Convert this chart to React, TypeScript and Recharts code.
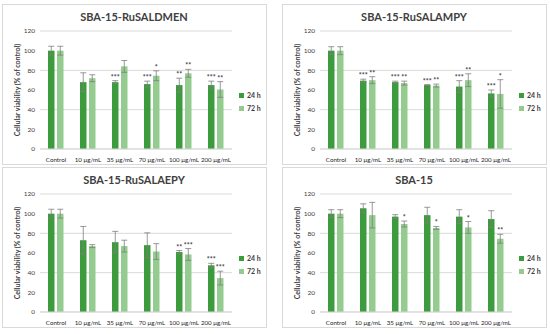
import React from "react";
import { BarChart, Bar, XAxis, YAxis, CartesianGrid, ErrorBar, LabelList, Legend, Label } from "recharts";

const categories = ["Control", "10 μg/mL", "35 μg/mL", "70 μg/mL", "100 μg/mL", "200 μg/mL"];
const yTicks = [0, 20, 40, 60, 80, 100, 120];

const titles = ["SBA-15-RuSALDMEN", "SBA-15-RuSALAMPY", "SBA-15-RuSALAEPY", "SBA-15"];

// SBA-15-RuSALDMEN
const p1v24 = [100, 68, 68, 66, 65, 65];
const p1e24 = [4.5, 9.5, 1.5, 3, 7, 4];
const p1s24 = ["", "", "***", "***", "**", "***"];
const p1v72 = [100, 72, 84, 74.5, 77, 60.5];
const p1e72 = [4.5, 3.5, 6, 5, 4, 8];
const p1s72 = ["", "", "", "*", "**", "**"];

// SBA-15-RuSALAMPY
const p2v24 = [100, 69.5, 68, 65, 63.5, 56.5];
const p2e24 = [4, 1.5, 1, 0.5, 6, 3.5];
const p2s24 = ["", "***", "***", "***", "***", "***"];
const p2v72 = [100, 70, 67, 64.5, 70, 56];
const p2e72 = [4, 3.5, 2, 1.5, 6.5, 14.5];
const p2s72 = ["", "**", "**", "**", "**", "*"];

// SBA-15-RuSALAEPY
const p3v24 = [100, 73, 71, 68, 61, 47.5];
const p3e24 = [4.5, 14, 11, 12.5, 1.5, 2];
const p3s24 = ["", "", "", "", "**", "***"];
const p3v72 = [100, 67, 67, 61.5, 58.5, 34.5];
const p3e72 = [4.5, 1.5, 6, 8, 6, 7];
const p3s72 = ["", "", "", "", "***", "***"];

// SBA-15
const p4v24 = [100, 105.5, 97, 98.5, 97, 94.5];
const p4e24 = [4, 4.5, 2, 8, 7, 8.5];
const p4s24 = ["", "", "", "", "", ""];
const p4v72 = [100, 98.5, 89.5, 85.5, 86, 74.5];
const p4e72 = [4, 13, 3, 1.5, 6, 4.5];
const p4s72 = ["", "", "*", "*", "*", "**"];

const C24 = "#3c9b3c";
const C72 = "#93cc8e";
const FONT = "Lato, 'Open Sans', sans-serif";

function build(v24: number[], e24: number[], s24: string[], v72: number[], e72: number[], s72: string[]) {
  return categories.map((c, i) => ({
    cat: c,
    h24: v24[i], e24: e24[i], s24: s24[i],
    h72: v72[i], e72: e72[i], s72: s72[i],
  }));
}

const panels = [
  { title: titles[0], data: build(p1v24, p1e24, p1s24, p1v72, p1e72, p1s72), left: 2, top: 4 },
  { title: titles[1], data: build(p2v24, p2e24, p2s24, p2v72, p2e72, p2s72), left: 282, top: 4 },
  { title: titles[2], data: build(p3v24, p3e24, p3s24, p3v72, p3e72, p3s72), left: 2, top: 167 },
  { title: titles[3], data: build(p4v24, p4e24, p4s24, p4v72, p4e72, p4s72), left: 282, top: 167 },
];

const makeStar = (data: any[], errKey: string) => (props: any) => {
  const { x, y, width, height, value, index } = props;
  if (!value) return null;
  const v = errKey === "e24" ? data[index].h24 : data[index].h72;
  const pxPerUnit = height / v;
  const ty = y - data[index][errKey] * pxPerUnit - 1;
  return (
    <text x={x + width / 2} y={ty} textAnchor="middle" fontSize={7} fontWeight={700} fill="#404040" fontFamily={FONT}>
      {value}
    </text>
  );
};

const LegendContent = () => (
  <div style={{ fontFamily: FONT, fontSize: 7, fontWeight: 700, color: "#404040", lineHeight: "13px", paddingLeft: 7 }}>
    {[["24 h", C24], ["72 h", C72]].map(([n, c]) => (
      <div key={n} style={{ display: "flex", alignItems: "center", whiteSpace: "nowrap" }}>
        <span style={{ display: "inline-block", width: 5, height: 5, background: c, marginRight: 3 }} />
        {n}
      </div>
    ))}
  </div>
);

function Panel({ title, data, left, top }: any) {
  return (
    <div
      style={{
        position: "absolute", left, top, width: 265, height: 161,
        border: "1px solid #d9d9d9", boxSizing: "border-box", background: "#fff",
      }}
    >
      <div
        style={{
          position: "absolute", left: 0, top: 5, width: 262, textAlign: "center",
          fontFamily: FONT, fontWeight: 700, fontSize: 11, color: "#404040",
        }}
      >
        {title}
      </div>
      <div style={{ position: "absolute", left: -1, top: -1 }}>
        <BarChart
          width={265}
          height={161}
          data={data}
          margin={{ top: 27, right: 5, bottom: 0, left: 0 }}
          barSize={6.5}
          barGap={2.5}
        >
          <CartesianGrid vertical={false} stroke="#d9d9d9" />
          <XAxis
            dataKey="cat"
            tickLine={false}
            axisLine={{ stroke: "#d9d9d9" }}
            tick={{ fontSize: 6.2, fill: "#262626", fontFamily: FONT }}
            interval={0}
            tickMargin={3}
            height={16}
          />
          <YAxis
            domain={[0, 120]}
            ticks={yTicks}
            tickLine={false}
            axisLine={false}
            tickSize={0}
            tickMargin={5}
            width={38}
            tick={{ fontSize: 6.5, fill: "#404040", fontFamily: FONT }}
          >
            <Label
              value="Cellular viability (% of control)"
              angle={-90}
              position="insideLeft"
              offset={16}
              style={{ textAnchor: "middle", fontSize: 7, fontWeight: 700, fill: "#404040", fontFamily: FONT }}
            />
          </YAxis>
          <Legend
            layout="vertical"
            align="right"
            verticalAlign="middle"
            content={<LegendContent />}
            wrapperStyle={{ width: 30, top: 85 }}
          />
          <Bar dataKey="h24" name="24 h" fill={C24} isAnimationActive={false}>
            <ErrorBar dataKey="e24" width={3} stroke="#7f7f7f" strokeWidth={0.8} />
            <LabelList dataKey="s24" content={makeStar(data, "e24")} />
          </Bar>
          <Bar dataKey="h72" name="72 h" fill={C72} isAnimationActive={false}>
            <ErrorBar dataKey="e72" width={3} stroke="#7f7f7f" strokeWidth={0.8} />
            <LabelList dataKey="s72" content={makeStar(data, "e72")} />
          </Bar>
        </BarChart>
      </div>
    </div>
  );
}

export default function App() {
  return (
    <div style={{ position: "absolute", left: 0, top: 0, width: 550, height: 334, background: "#fff", overflow: "hidden" }}>
      {panels.map((p) => (
        <Panel key={p.title} {...p} />
      ))}
    </div>
  );
}
